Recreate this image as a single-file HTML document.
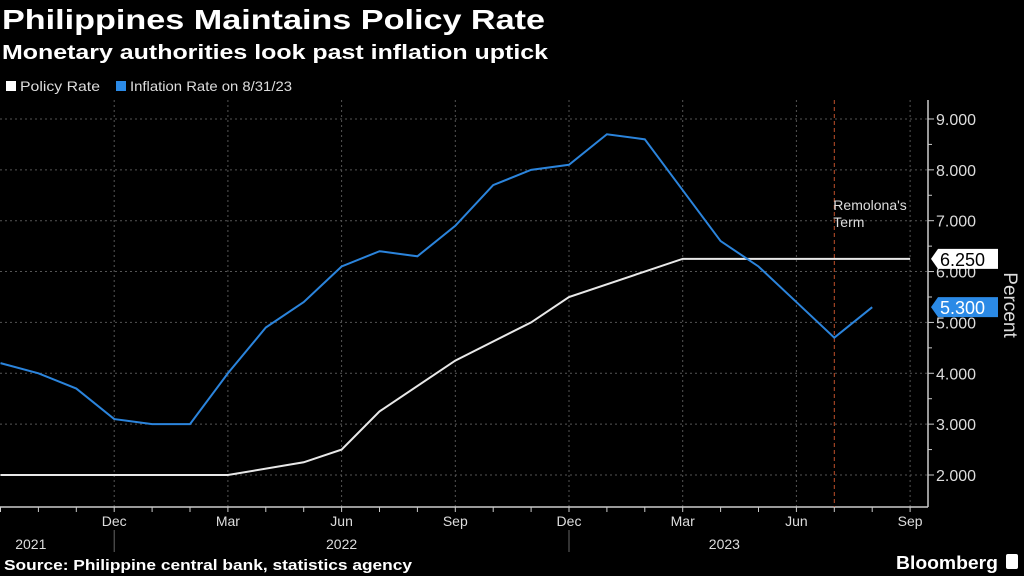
<!DOCTYPE html>
<html><head><meta charset="utf-8"><style>
body{margin:0;background:#000;width:1024px;height:576px;overflow:hidden}
svg{display:block}
text{font-family:"Liberation Sans",sans-serif}
</style></head><body>
<svg id="chart" width="1024" height="576" viewBox="0 0 1024 576">
<rect width="1024" height="576" fill="#000"/>
<text x="2" y="29" fill="#fff" font-size="28" font-weight="bold" font-family="DejaVu Sans" textLength="543" lengthAdjust="spacingAndGlyphs">Philippines Maintains Policy Rate</text>
<text x="2" y="59" fill="#fff" font-size="20" font-weight="bold" font-family="DejaVu Sans" textLength="546" lengthAdjust="spacingAndGlyphs">Monetary authorities look past inflation uptick</text>
<g>
<rect x="6" y="81" width="10" height="10" fill="#fff"/>
<text x="20" y="91" fill="#ddd" font-size="14" textLength="80" lengthAdjust="spacingAndGlyphs">Policy Rate</text>
<rect x="116" y="81" width="10" height="10" fill="#2b8ae6"/>
<text x="130" y="91" fill="#ddd" font-size="14" textLength="162" lengthAdjust="spacingAndGlyphs">Inflation Rate on 8/31/23</text>
</g>
<g id="grid"></g>
<g id="axes"></g>
<g id="series"></g>
<text x="4" y="570" fill="#fff" font-size="15" font-weight="bold" font-family="DejaVu Sans" textLength="408" lengthAdjust="spacingAndGlyphs">Source: Philippine central bank, statistics agency</text>
<text x="896" y="569" fill="#fff" font-size="18" font-weight="bold" textLength="102" lengthAdjust="spacingAndGlyphs">Bloomberg</text>
<rect x="1006" y="554" width="12" height="15" rx="2" fill="#fff"/>
</svg>
<script>
const inflation = [4.2,4.0,3.7,3.1,3.0,3.0,4.0,4.9,5.4,6.1,6.4,6.3,6.9,7.7,8.0,8.1,8.7,8.6,7.6,6.6,6.1,5.4,4.7,5.3];
const policyMonths = [0,6,8,9,10,12,14,15,17,18,24];
const policyValues = [2,2,2.25,2.5,3.25,4.25,5.0,5.5,6.0,6.25,6.25];
const yTicks = [2,3,4,5,6,7,8,9];
const yTickLabels = ["2.000","3.000","4.000","5.000","6.000","7.000","8.000","9.000"];
const xTickMonths = [3,6,9,12,15,18,21,24];
const xTickLabels = ["Dec","Mar","Jun","Sep","Dec","Mar","Jun","Sep"];
const yearLabels = ["2021","2022","2023"];
const yearLabelMonths = [0.8,9,19.1];
const yearSepMonths = [3,15];
const termMonth = 22;

const NS="http://www.w3.org/2000/svg";
const X = m => 0.5 + m*37.9;
const Y = v => 475 - (v-2)*50.86;
function mk(tag, attrs, parent){const e=document.createElementNS(NS,tag);for(const k in attrs)e.setAttribute(k,attrs[k]);parent.appendChild(e);return e;}
const grid=document.getElementById('grid'), axes=document.getElementById('axes'), series=document.getElementById('series');

yTicks.forEach((v,i)=>{
  const g=mk('line',{x1:0,x2:928,y1:Y(v),y2:Y(v),stroke:'#555','stroke-dasharray':'2,3','stroke-width':1},grid);
  
  
  const t=mk('line',{x1:928,x2:934,y1:Y(v),y2:Y(v),stroke:'#ccc'},axes);
  
  
  if(i<yTicks.length-1){
    const m=mk('line',{x1:928,x2:932,y1:Y(v+0.5),y2:Y(v+0.5),stroke:'#ccc'},axes);
    
    
  }
  const l=mk('text',{x:936,y:Y(v)+6,fill:'#ddd','font-size':16},axes);
  l.textContent=yTickLabels[i];
  
  
});
xTickMonths.forEach((m,i)=>{
  const g=mk('line',{x1:X(m),x2:X(m),y1:100,y2:507,stroke:'#555','stroke-dasharray':'2,3'},grid);
  
  
  const l=mk('text',{x:X(m),y:526,fill:'#ddd','font-size':14,'text-anchor':'middle'},axes);
  l.textContent=xTickLabels[i];
  
  
});
for(let m=0;m<=24;m++){
  const t=mk('line',{x1:X(m),x2:X(m),y1:507,y2:512,stroke:'#ccc'},axes);
  
  
}
yearLabels.forEach((s,i)=>{
  const l=mk('text',{x:X(yearLabelMonths[i]),y:549,fill:'#ddd','font-size':14,'text-anchor':'middle'},axes);
  l.textContent=s;
  
  
});
yearSepMonths.forEach(m=>{
  const s=mk('line',{x1:X(m),x2:X(m),y1:530,y2:552,stroke:'#666'},axes);
  
  
});
const xa=mk('line',{x1:0,x2:928,y1:507,y2:507,stroke:'#ccc','stroke-width':1.5},axes);


const ya=mk('line',{x1:928,x2:928,y1:100,y2:507,stroke:'#ccc','stroke-width':1.5},axes);


const yt=mk('text',{x:0,y:0,fill:'#ddd','font-size':19,transform:'translate(1004,305) rotate(90)','text-anchor':'middle'},axes);
yt.textContent='Percent';



const term=mk('line',{x1:X(termMonth),x2:X(termMonth),y1:100,y2:507,stroke:'#c0502a','stroke-dasharray':'4,3'},series);


const tl1=mk('text',{x:X(termMonth)-1,y:210,fill:'#ddd','font-size':14},series);
tl1.textContent="Remolona's";


const tl2=mk('text',{x:X(termMonth)-1,y:227,fill:'#ddd','font-size':14},series);
tl2.textContent="Term";



const pp=mk('polyline',{points:policyMonths.map((m,i)=>X(m)+','+Y(policyValues[i])).join(' '),fill:'none',stroke:'#e8e8e8','stroke-width':2},series);


const ip=mk('polyline',{points:inflation.map((v,i)=>X(i)+','+Y(v)).join(' '),fill:'none',stroke:'#2b84dc','stroke-width':2},series);



function tag(v,bg,fg,name){
  const y=Y(v);
  const p=mk('path',{d:`M931 ${y} L938 ${y-10} L998 ${y-10} L998 ${y+10} L938 ${y+10} Z`,fill:bg},series);
  
  
  const t=mk('text',{x:940,y:y+7,fill:fg,'font-size':18},series);
  t.textContent=v.toFixed(3);
  
  
}
tag(policyValues[policyValues.length-1],'#fff','#000','policy-value-tag');
tag(inflation[inflation.length-1],'#2b8ae6','#fff','inflation-value-tag');
</script>
</body></html>
